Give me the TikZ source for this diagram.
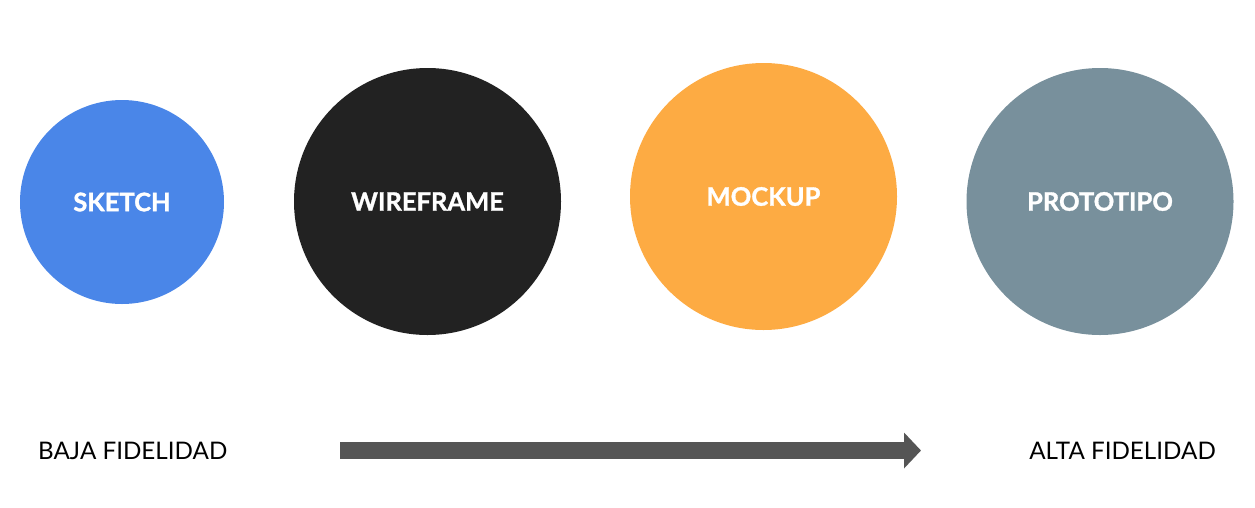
\documentclass[tikz,border=0pt]{standalone}
\usepackage{fontspec}
\setmainfont{Lato}
\newfontfamily\stagefont{Lato}[FakeBold=1.2]
\usetikzlibrary{arrows.meta}
\definecolor{sketchblue}{RGB}{74,134,232}
\definecolor{wireblack}{RGB}{34,34,34}
\definecolor{mockorange}{RGB}{253,171,67}
\definecolor{protogrey}{RGB}{120,144,156}
\definecolor{arrowgrey}{RGB}{85,85,85}
\tikzset{
  stage/.style={circle,inner sep=0pt,text=white,font=\stagefont\fontsize{25.5}{26}\selectfont\bfseries},
  fidelity/.style={inner sep=0pt,text=black,font=\fontsize{24.2}{25}\selectfont}
}
\begin{document}
\begin{tikzpicture}[>=stealth,x=1pt,y=-1pt]
	\def\rs{204pt}
	\def\rl{267pt}
	\useasboundingbox (0,0) rectangle (1255,507);
	\node[stage,fill=sketchblue,minimum size=\rs] (sketch) at (122,202) {SKETCH};
	\node[stage,fill=wireblack,minimum size=\rl] (wire) at (427.5,201.5) {WIREFRAME};
	\node[stage,fill=mockorange,minimum size=\rl] (mock) at (763.5,196.5) {MOCKUP};
	\node[stage,fill=protogrey,minimum size=\rl] (proto) at (1100,201.5) {PROTOTIPO};
	\node[fidelity,anchor=west] (baja) at (38,450.5) {BAJA FIDELIDAD};
	\node[fidelity,anchor=east] (alta) at (1216,450.5) {ALTA FIDELIDAD};
	\coordinate (lo) at (340,450.5);
	\coordinate (hi) at (921,450.5);
	\draw[arrowgrey,line width=17pt,-{Triangle[length=17pt,width=35pt]}] (lo) -- (hi);
\end{tikzpicture}
\end{document}
